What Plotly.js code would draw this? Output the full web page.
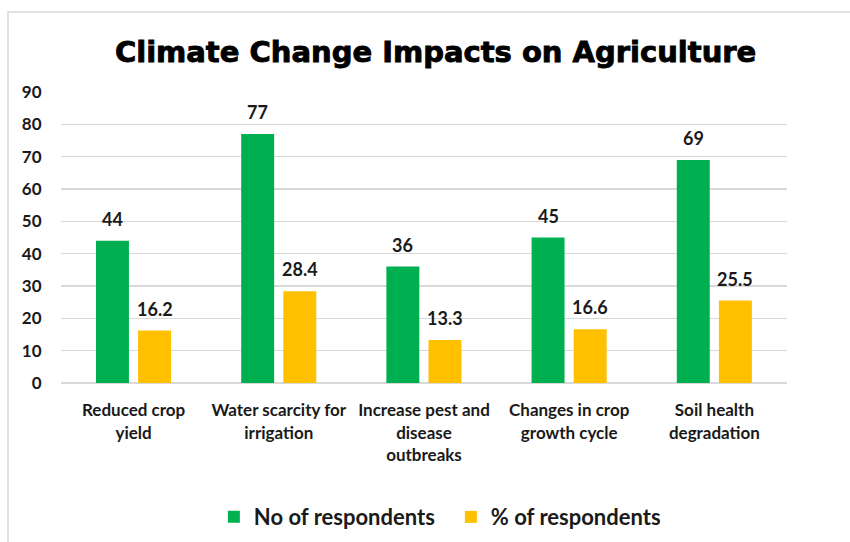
<!DOCTYPE html>
<html>
<head>
<meta charset="utf-8">
<script src="https://cdn.plot.ly/plotly-3.0.1.min.js"></script>
<style>
  html, body { margin: 0; padding: 0; background: #fff; }
  #chart { width: 850px; height: 542px; }
  /* heavier title stroke */
  #chart .gtitle { stroke: #000; stroke-width: 0.9px; paint-order: stroke; }
</style>
</head>
<body>
<div id="chart"></div>
<script>
// Survey results: climate change impacts reported by farmers
const categories = [
  "Reduced crop<br>yield",
  "Water scarcity for<br>irrigation",
  "Increase pest and<br>disease<br>outbreaks",
  "Changes in crop<br>growth cycle",
  "Soil health<br>degradation"
];
const respondentsCount = [44, 77, 36, 45, 69];
const respondentsPct = [16.2, 28.4, 13.3, 16.6, 25.5];
const seriesNames = ["No of respondents", "% of respondents"];
const yTicks = [0, 10, 20, 30, 40, 50, 60, 70, 80, 90];

const GREEN = "#00B050";
const YELLOW = "#FFC000";
const BAR_W = 0.227;
const OFF_A = -0.259;
const OFF_B = 0.031;

const traces = [
  {
    type: "bar", name: seriesNames[0], x: categories, y: respondentsCount,
    marker: { color: GREEN }, width: BAR_W, offset: OFF_A, hoverinfo: "y"
  },
  {
    type: "bar", name: seriesNames[1], x: categories, y: respondentsPct,
    marker: { color: YELLOW }, width: BAR_W, offset: OFF_B, hoverinfo: "y"
  }
];

// value labels above each bar
const labelFont = { family: "Lato, 'Open Sans', sans-serif", size: 18, color: "#1a1a1a", weight: "bold" };
const annotations = [];
categories.forEach((c, i) => {
  annotations.push({
    x: i + OFF_A + BAR_W / 2, y: respondentsCount[i], xref: "x", yref: "y",
    text: "<b>" + respondentsCount[i] + "</b>", showarrow: false,
    yanchor: "bottom", yshift: 9, font: labelFont
  });
  annotations.push({
    x: i + OFF_B + BAR_W / 2, y: respondentsPct[i], xref: "x", yref: "y",
    text: "<b>" + respondentsPct[i].toFixed(1) + "</b>", showarrow: false,
    yanchor: "bottom", yshift: 9, font: labelFont
  });
});

const layout = {
  width: 850, height: 542,
  margin: { l: 61, r: 63, t: 92, b: 159 },
  paper_bgcolor: "#ffffff", plot_bgcolor: "#ffffff",
  barmode: "overlay",
  title: {
    text: "<b>Climate Change Impacts on Agriculture</b>",
    font: { family: "'DejaVu Sans', sans-serif", size: 29, color: "#000000" },
    xref: "paper", x: 0.516, xanchor: "center",
    yref: "container", y: 0.905, yanchor: "middle"
  },
  xaxis: {
    type: "category",
    tickfont: { family: "Lato, 'Open Sans', sans-serif", size: 17, color: "#1a1a1a", weight: "bold" },
    ticks: "outside", ticklen: 12, tickcolor: "rgba(0,0,0,0)",
    showline: false, showgrid: false, zeroline: false,
    fixedrange: true
  },
  yaxis: {
    range: [0, 90], tickvals: yTicks,
    tickfont: { family: "Lato, 'Open Sans', sans-serif", size: 17, color: "#1a1a1a", weight: "bold" },
    ticks: "outside", ticklen: 15, tickcolor: "rgba(0,0,0,0)",
    showgrid: true, gridcolor: "#d9d9d9", gridwidth: 1.5,
    zeroline: true, zerolinecolor: "#d9d9d9", zerolinewidth: 1.5,
    showline: false, fixedrange: true
  },
  legend: {
    orientation: "h", xref: "paper", x: 0.537, xanchor: "center",
    yref: "container", y: 0.046, yanchor: "middle",
    font: { family: "Lato, 'Open Sans', sans-serif", size: 22, color: "#1a1a1a", weight: "bold" },
    itemwidth: 30, tracegroupgap: 0, entrywidth: 192
  },
  annotations: annotations,
  shapes: [{
    type: "rect", xref: "paper", yref: "paper",
    x0: -0.073, x1: 1.09, y0: -0.56, y1: 1.275,
    line: { color: "#d9d9d9", width: 1.5 }, fillcolor: "rgba(0,0,0,0)",
    layer: "below"
  }],
  showlegend: true
};

Plotly.newPlot("chart", traces, layout, { displayModeBar: false, staticPlot: true });
</script>
</body>
</html>
